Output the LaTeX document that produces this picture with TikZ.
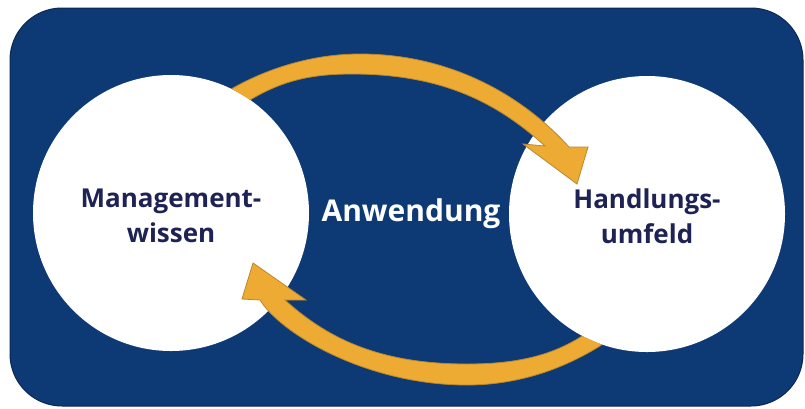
\documentclass[tikz,border=0pt]{standalone}
\usepackage{fontspec}
\setmainfont{Open Sans}
\usetikzlibrary{positioning}
\definecolor{panelblue}{RGB}{13,57,117}
\definecolor{inkblue}{RGB}{30,34,84}
\definecolor{arrowgold}{RGB}{237,171,52}
\definecolor{arrowrim}{RGB}{185,135,45}

\begin{document}
\begin{tikzpicture}[x=1pt,y=-1pt,
  bubble/.style={circle,fill=white,minimum size=276pt,inner sep=0pt},
  bubbletext/.style={align=center,text=inkblue,font=\fontsize{26}{35}\selectfont\bfseries},
  band/.style={draw=arrowrim,fill=arrowgold,line width=0.8pt,line join=miter},
  midlabel/.style={text=white,font=\fontsize{30}{36}\selectfont\bfseries}]

  \useasboundingbox (0,0) rectangle (805,408);
  \draw[fill=panelblue,draw=panelblue!70!black,line width=1pt,rounded corners=52pt]
    (10,8) rectangle (803,406);

  \node[bubble] (mgmt) at (171,213) {};
  \node[bubble] (handl) at (647,214) {};

  \node[bubbletext] (mgmttext) at ([yshift=-3pt]mgmt.center) {Management-\\wissen};
  \node[bubbletext] (handltext) at ([yshift=-2pt]handl.center) {Handlungs-\\umfeld};

  \node[midlabel] (use) at (411,214) {Anwendung};

  % upper arrow, knowledge to field
  \draw[band] (mgmt.64.7) .. controls (270,67) and (315,54) .. (360,54)
    .. controls (450,54) and (522,95) .. (569,147)
    -- (588,147) -- (577,184) -- (523,144) -- (545,146)
    .. controls (497,102.5) and (442,74) .. (352,74)
    .. controls (315,74) and (285,79) .. (mgmt.55.5);

  % lower arrow, field back to knowledge
  \draw[band] (handl.251.3) .. controls (563,369.5) and (517,385) .. (467,385)
    .. controls (367,385) and (281,334) .. (260,300)
    -- (242,299) -- (253,263) -- (306,300) -- (285,300)
    .. controls (326,337) and (377,364) .. (467,364)
    .. controls (510,364) and (548,358) .. (handl.242.1);

\end{tikzpicture}
\end{document}
